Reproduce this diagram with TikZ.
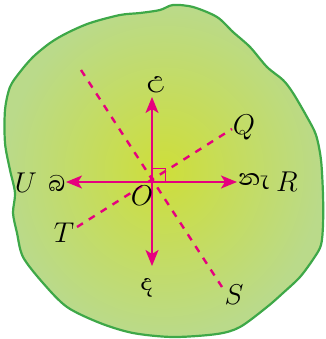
\documentclass[tikz,border=0pt]{standalone}
\usepackage{fontspec}
\newfontfamily\sinhala[Script=Sinhala]{Abhaya Libre}
\usetikzlibrary{arrows.meta}
\definecolor{rimgreen}{RGB}{62,168,72}
\definecolor{midgreen}{RGB}{206,222,58}
\definecolor{edgegreen}{RGB}{186,218,138}
\definecolor{compassmag}{RGB}{230,0,126}

\begin{document}
\begin{tikzpicture}[x=1pt, y=-1pt,
  dir/.style={draw=compassmag, line width=1.8pt, -{Stealth[length=16pt, width=13pt, inset=4pt]}},
  axisline/.style={compassmag, line width=2.4pt, dash pattern=on 7pt off 7pt},
  letter/.style={font=\fontsize{25}{30}\selectfont, scale=1.15},
  sinh/.style={font=\sinhala\fontsize{29}{34}\selectfont, inner sep=1pt}]
  \useasboundingbox (0,0) rectangle (325,339);

  % ground patch
  \shadedraw[draw=rimgreen, line width=2.2pt, inner color=midgreen, outer color=edgegreen]
    plot[smooth cycle, tension=0.5] coordinates {
      (173,5) (193,7) (217,17) (233,32) (250,47) (267,67) (283,80) (293,93)
      (307,117) (316,135) (321,160) (323,195) (323,225) (321,245) (314,258)
      (300,277) (283,293) (267,307) (240,327) (217,334) (173,337) (133,333)
      (100,323) (67,307) (43,283) (23,257) (17,233) (13,213) (15,193)
      (10,170) (5,143) (5,110) (10,87) (20,72) (33,57) (50,43) (67,33)
      (90,23) (120,15) (140,13) (160,10)};

  % centre and end points
  \coordinate (O) at (152,182);
  \coordinate (N) at (152,97);
  \coordinate (Sd) at (152,266);
  \coordinate (W) at (66,182);
  \coordinate (E) at (237,182);
  \coordinate (Qe) at (232,129);
  \coordinate (Te) at (77,227);
  \coordinate (Pe) at (81,70);
  \coordinate (Se) at (222,287);

  % dashed lines
  \draw[axisline] (Te) -- (Qe);
  \draw[axisline] (Pe) -- (Se);

  % compass arrows
  \foreach \p in {N,Sd,W,E}
    \draw[dir] (O) -- (\p);
  \draw[compassmag, line width=0.9pt] (152,168) -- (165,168) -- (165,182);

  % labels
  \node[letter] (lO) at (142,196) {$O$};
  \node[letter] (lQ) at (244,128) {$Q$};
  \node[letter] (lT) at (64,233) {$T$};
  \node[letter] (lS) at (234,295) {$S$};
  \node[letter] (lU) at (26,183) {$U$};
  \node[letter] (lR) at (287,182) {$R$};
  \node[sinh] (nU) at (156,85) {උ};
  \node[sinh] (sD) at (147,288) {ද};
  \node[sinh] (wB) at (57,183) {බ};
  \node[sinh] (eN) at (254,182) {නැ};
\end{tikzpicture}
\end{document}
